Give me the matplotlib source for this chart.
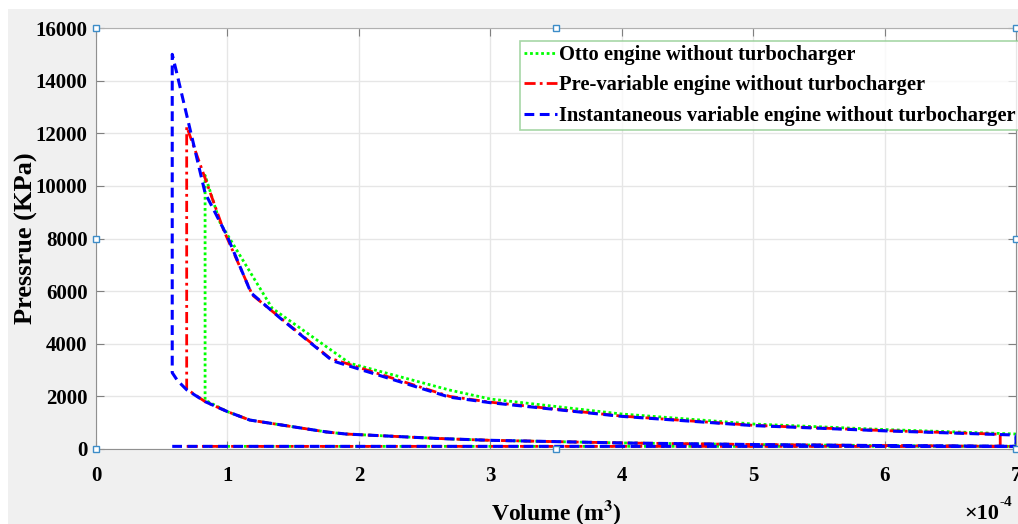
import matplotlib
matplotlib.use("Agg")
import matplotlib.pyplot as plt
from matplotlib.patches import Rectangle

# volume in units of 1e-4 m^3, pressure in kPa
# Otto engine without turbocharger
otto_comp_v = [7.0, 6.0, 5.0, 4.0, 3.0, 2.6, 1.9, 1.75, 1.17, 1.0, 0.83]
otto_comp_p = [100, 130, 170, 230, 330, 400, 570, 650, 1100, 1420, 1860]
otto_exp_v = [0.83, 0.944, 1.34, 1.93, 2.69, 3.0, 4.0, 5.0, 6.0, 7.0]
otto_exp_p = [10400, 8600, 5350, 3260, 2240, 1900, 1330, 950, 740, 570]

# Pre-variable engine without turbocharger
pre_comp_v = [7.0, 6.0, 5.0, 4.0, 3.0, 2.6, 1.9, 1.75, 1.17, 1.0, 0.83, 0.69]
pre_comp_p = [100, 130, 170, 230, 330, 400, 570, 650, 1100, 1420, 1800, 2280]
pre_exp_v = [0.69, 0.97, 1.19, 1.78, 2.69, 3.0, 4.0, 5.0, 6.0, 6.88]
pre_exp_p = [12250, 8330, 5850, 3450, 2000, 1780, 1250, 900, 700, 560]

# Instantaneous variable engine without turbocharger
inst_comp_v = [7.0, 6.0, 5.0, 4.0, 3.0, 2.6, 1.9, 1.75, 1.17, 1.0, 0.83, 0.69, 0.62, 0.58]
inst_comp_p = [100, 130, 170, 230, 330, 400, 570, 650, 1100, 1420, 1800, 2250, 2600, 2900]
inst_exp_v = [0.58, 0.614, 0.83, 1.0, 1.18, 1.4, 1.8, 2.69, 3.0, 4.0, 5.0, 6.0, 7.0]
inst_exp_p = [15000, 14300, 9730, 8070, 5930, 4980, 3350, 1970, 1760, 1240, 890, 690, 530]

p_intake = 100

labels = ['Otto engine without turbocharger',
          'Pre-variable engine without turbocharger',
          'Instantaneous variable engine without turbocharger']


def cycle(comp_v, comp_p, exp_v, exp_p):
    # intake -> compression -> combustion -> expansion -> exhaust
    v = [comp_v[-1], comp_v[0]] + comp_v + exp_v + [exp_v[-1]]
    p = [p_intake, p_intake] + comp_p + exp_p + [p_intake]
    return v, p


plt.rcParams['font.family'] = ['Liberation Serif', 'DejaVu Serif']
plt.rcParams['font.weight'] = 'bold'
plt.rcParams['mathtext.fontset'] = 'stix'

fig = plt.figure(figsize=(10.18, 5.24), dpi=100, facecolor='white')
fig.patches.append(Rectangle((8 / 1018, 0), 1, 515 / 524, transform=fig.transFigure,
                             facecolor='#f0f0f0', edgecolor='none', zorder=-10))
ax = fig.add_axes([96 / 1018, 1 - 449 / 524, 920 / 1018, 421 / 524])
ax.set_facecolor('white')

v, p = cycle(otto_comp_v, otto_comp_p, otto_exp_v, otto_exp_p)
ax.plot(v, p, color=(0, 1, 0), linestyle=(0, (1, 1)), lw=2, label=labels[0])
v, p = cycle(pre_comp_v, pre_comp_p, pre_exp_v, pre_exp_p)
ax.plot(v, p, color=(1, 0, 0), linestyle=(0, (4, 1.5, 1, 1.5)), lw=2, label=labels[1])
v, p = cycle(inst_comp_v, inst_comp_p, inst_exp_v, inst_exp_p)
ax.plot(v, p, color=(0, 0, 1), linestyle=(0, (3.2, 1.8)), lw=2.2, label=labels[2])

ax.set_xlim(0, 7)
ax.set_ylim(0, 16000)
ax.set_xticks(range(0, 8))
ax.set_yticks(range(0, 16001, 2000))
ax.grid(True, color='#e6e6e6', lw=1)
ax.set_axisbelow(True)
ax.tick_params(direction='in', top=True, right=True, length=6, color='#808080',
               labelsize=15)
ax.tick_params(axis='x', pad=12)
ax.tick_params(axis='y', pad=6)
for s in ax.spines.values():
    s.set_color('#909090')
ax.spines['top'].set_color('#b0b0b0')

ax.set_xlabel('Volume (m$^\\mathbf{3}$)', fontsize=17, fontweight='bold', labelpad=9)
ax.set_ylabel('Pressrue (KPa)', fontsize=19, fontweight='bold', labelpad=-2)
# MATLAB style exponent under the right end of the x axis
ax.text(0.982, -0.155, '\u00d710', transform=ax.transAxes,
        fontsize=16, ha='right', va='center')
ax.text(0.982, -0.128, '-4', transform=ax.transAxes,
        fontsize=11, ha='left', va='center')

leg = ax.legend(loc='upper right', bbox_to_anchor=(1.004, 0.969), fontsize=14.8,
                frameon=True, fancybox=False, handlelength=1.6, handletextpad=0.1,
                borderpad=0.2, labelspacing=0.5, borderaxespad=0)
leg.get_frame().set_edgecolor('#90cc90')
leg.get_frame().set_linewidth(1.2)
for t in leg.get_texts():
    t.set_fontweight('bold')

# edit-mode selection handles
for hx, hy in [(0, 1), (0.5, 1), (1, 1), (0, 0.5), (1, 0.5), (0, 0), (0.5, 0), (1, 0)]:
    ax.plot(hx, hy, marker='s', ms=4, mfc='white', mec='#3c8cc8', mew=1,
            transform=ax.transAxes, clip_on=False, zorder=10)

fig.savefig('out.png', dpi=100, facecolor=fig.get_facecolor())
